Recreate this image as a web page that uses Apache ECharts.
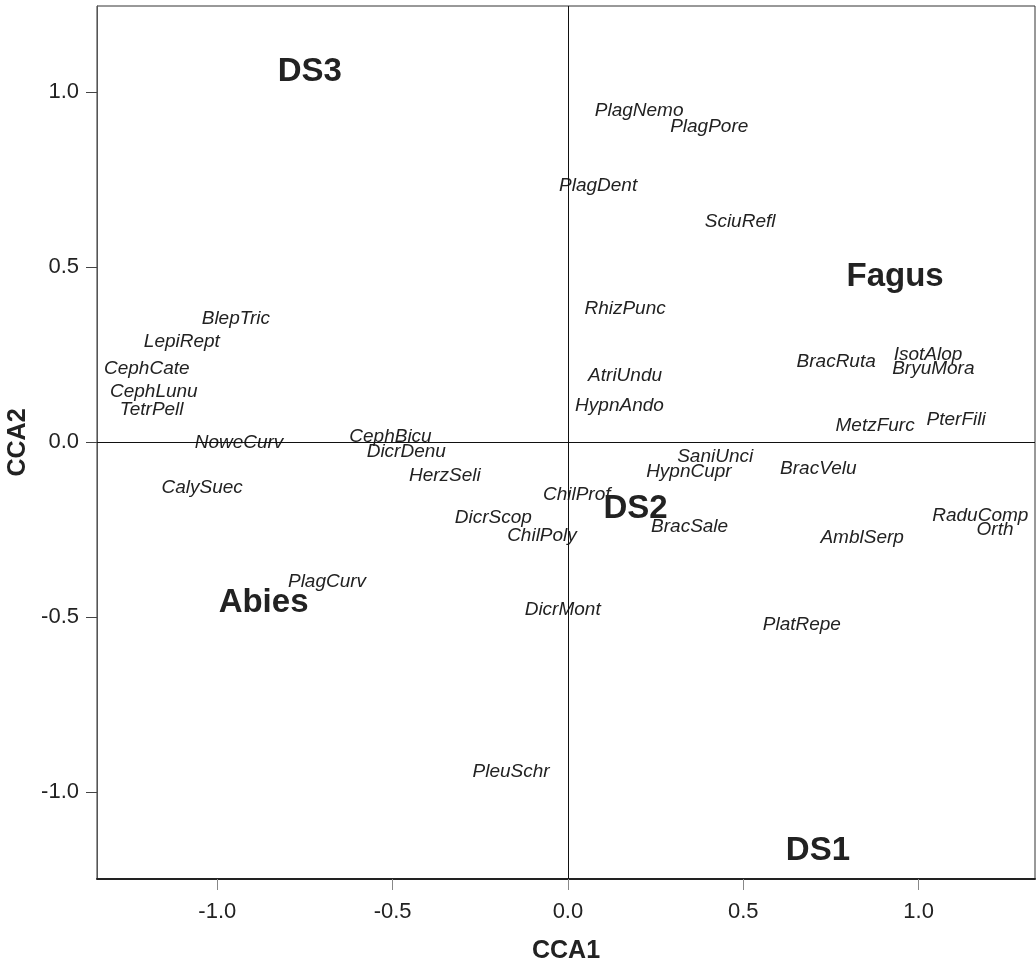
<!DOCTYPE html>
<html>
<head>
<meta charset="utf-8">
<script src="https://cdn.jsdelivr.net/npm/echarts@6/dist/echarts.min.js"></script>
<style>
html,body{margin:0;padding:0;background:#fff;}
#chart{width:1036px;height:965px;}
</style>
</head>
<body>
<div id="chart"></div>
<script>
// Species scores (labels drawn centred on their CCA1/CCA2 positions)
const speciesNames = ["BlepTric","LepiRept","CephCate","CephLunu","TetrPell","NoweCurv","CephBicu","DicrDenu","HerzSeli","CalySuec","PlagCurv","DicrScop","ChilPoly","ChilProf","PleuSchr","DicrMont","PlagNemo","PlagPore","PlagDent","SciuRefl","RhizPunc","AtriUndu","HypnAndo","BracRuta","IsotAlop","BryuMora","MetzFurc","PterFili","SaniUnci","HypnCupr","BracVelu","BracSale","AmblSerp","RaduComp","Orth","PlatRepe"];
const speciesCCA1 = [-0.947,-1.101,-1.201,-1.181,-1.187,-0.938,-0.506,-0.461,-0.351,-1.043,-0.687,-0.213,-0.074,0.025,-0.162,-0.015,0.203,0.403,0.086,0.491,0.163,0.163,0.147,0.765,1.027,1.042,0.876,1.107,0.420,0.345,0.714,0.347,0.839,1.176,1.218,0.667];
const speciesCCA2 = [0.351,0.287,0.208,0.143,0.091,-0.002,0.016,-0.028,-0.095,-0.131,-0.400,-0.217,-0.269,-0.150,-0.942,-0.478,0.947,0.901,0.731,0.630,0.381,0.190,0.104,0.228,0.248,0.209,0.046,0.063,-0.043,-0.085,-0.077,-0.242,-0.272,-0.211,-0.251,-0.521];

// Centroids of factor levels
const groupNames = ["DS3","Fagus","DS2","Abies","DS1"];
const groupCCA1 = [-0.736,0.933,0.193,-0.868,0.713];
const groupCCA2 = [1.058,0.470,-0.192,-0.460,-1.167];

// Axis ranges and ticks
const xRange = [-1.343, 1.332];
const yRange = [-1.248, 1.245];
const xTicks = [-1.0,-0.5,0.0,0.5,1.0];
const yTicks = [-1.0,-0.5,0.0,0.5,1.0];

const FONT = "'Liberation Sans', Arial, Helvetica, sans-serif";
const speciesData = speciesNames.map((n,i)=>({name:n, value:[speciesCCA1[i], speciesCCA2[i]]}));
const groupData = groupNames.map((n,i)=>({name:n, value:[groupCCA1[i], groupCCA2[i]]}));

const fmt = v => (Math.abs(v) < 1e-9 ? 0 : v).toFixed(1);

const chart = echarts.init(document.getElementById('chart'), null, {renderer:'canvas'});
chart.setOption({
  animation:false,
  backgroundColor:'#ffffff',
  grid:{left:97, right:1, top:6, bottom:86, outerBoundsMode:'none', containLabel:false, show:true, borderColor:'#333', borderWidth:1, backgroundColor:'transparent'},
  xAxis:{
    type:'value', min:xRange[0], max:xRange[1],
    name:'CCA1', nameLocation:'middle', nameGap:60,
    nameTextStyle:{fontFamily:FONT, fontWeight:'bold', fontSize:25, color:'#222'},
    axisLine:{show:true, onZero:false, lineStyle:{color:'#222', width:2}},
    axisTick:{show:true, length:11, customValues:xTicks, lineStyle:{color:'#888', width:1}},
    axisLabel:{show:true, margin:22, customValues:xTicks, formatter:fmt, fontFamily:FONT, fontSize:22, color:'#222'},
    splitLine:{show:false}
  },
  yAxis:{
    type:'value', min:yRange[0], max:yRange[1],
    name:'CCA2', nameLocation:'middle', nameGap:59, nameRotate:90,
    nameTextStyle:{fontFamily:FONT, fontWeight:'bold', fontSize:25, color:'#222'},
    axisLine:{show:true, onZero:false, lineStyle:{color:'#555', width:1}},
    axisTick:{show:true, length:11, customValues:yTicks, lineStyle:{color:'#444', width:1}},
    axisLabel:{show:true, margin:18, customValues:yTicks, formatter:fmt, fontFamily:FONT, fontSize:22, color:'#222'},
    splitLine:{show:false}
  },
  series:[
    {
      type:'scatter', silent:true, symbolSize:1, clip:false,
      itemStyle:{color:'rgba(0,0,0,0)', opacity:1},
      data:speciesData,
      label:{show:true, position:'inside', formatter:'{b}', fontFamily:FONT, fontStyle:'italic', fontSize:19, color:'#222', opacity:1, textBorderWidth:0},
      emphasis:{disabled:true},
      markLine:{
        silent:true, symbol:['none','none'], animation:false,
        label:{show:false},
        lineStyle:{color:'#111', width:1, type:'solid', opacity:1},
        data:[{xAxis:0},{yAxis:0}]
      }
    },
    {
      type:'scatter', silent:true, symbolSize:1, clip:false,
      itemStyle:{color:'rgba(0,0,0,0)', opacity:1},
      data:groupData,
      label:{show:true, position:'inside', formatter:'{b}', fontFamily:FONT, fontWeight:'bold', fontSize:33, color:'#222', opacity:1, textBorderWidth:0},
      emphasis:{disabled:true}
    }
  ]
});
</script>
</body>
</html>
